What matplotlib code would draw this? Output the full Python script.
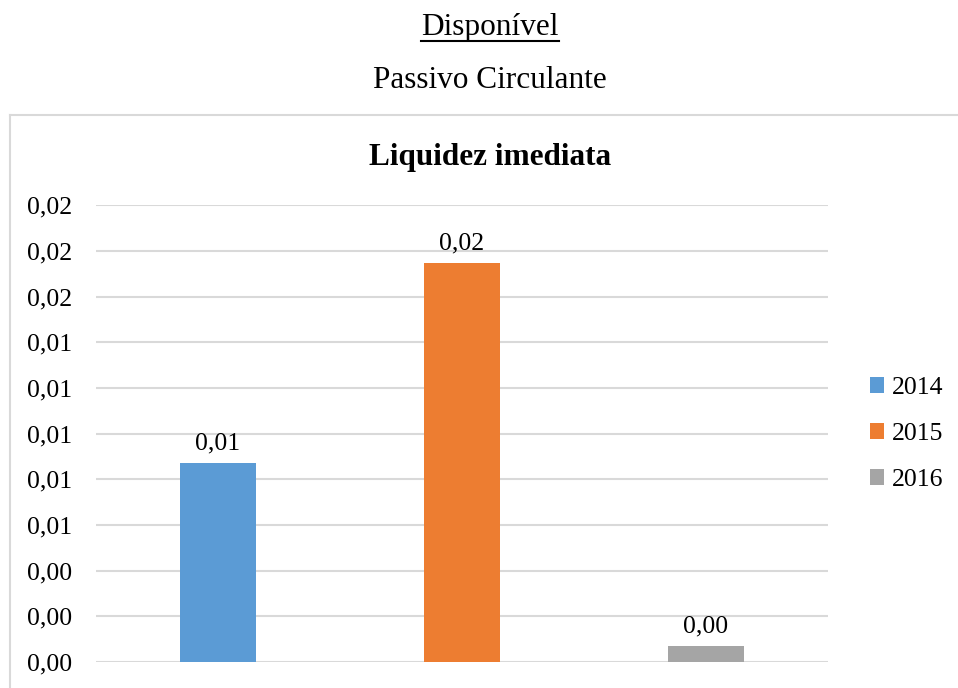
import matplotlib
matplotlib.use("Agg")
import matplotlib.pyplot as plt
from matplotlib.lines import Line2D
from matplotlib.patches import Patch

# Liquidez imediata = Disponível / Passivo Circulante
years = ["2014", "2015", "2016"]
values = [0.00872, 0.01747, 0.0007]
colors = ["#5B9BD5", "#ED7D31", "#A5A5A5"]
y_ticks = [0.000, 0.002, 0.004, 0.006, 0.008, 0.010, 0.012, 0.014, 0.016, 0.018, 0.020]

W, H = 958, 688
plt.rcParams["font.family"] = ["Liberation Serif", "DejaVu Serif"]

fig = plt.figure(figsize=(W / 100, H / 100), dpi=100)


def fx(px):
    return px / W


def fy(py):
    return 1 - py / H


ax = fig.add_axes([fx(96), fy(662), fx(828) - fx(96), fy(205.3) - fy(662)])

bar_w = 0.315
for i, (yr, v, c) in enumerate(zip(years, values, colors)):
    ax.bar(i, v, width=bar_w, color=c, label=yr, zorder=3)
    ax.annotate(f"{v:.2f}".replace(".", ","), (i, v), xytext=(0, 6),
                textcoords="offset points", ha="center", va="bottom",
                fontsize=18.5, color="#000000")

ax.set_xlim(-0.5, 2.5)
ax.set_ylim(0, 0.020)
ax.set_yticks(y_ticks)
ax.set_yticklabels([f"{t:.2f}".replace(".", ",") for t in y_ticks], fontsize=18.5)
ax.set_xticks([])
ax.tick_params(axis="y", length=0, pad=17)
ax.grid(axis="y", color="#d9d9d9", linewidth=1.5, zorder=0)
ax.set_axisbelow(True)
for s in ax.spines.values():
    s.set_visible(False)

# legend on the right
handles = [Patch(facecolor=c, edgecolor="none") for c in colors]
fig.legend(handles, years, loc="center left", bbox_to_anchor=(fx(870), fy(434)),
           frameon=False, fontsize=18.5, handlelength=0.55, handleheight=0.55,
           handletextpad=0.3, labelspacing=0.93, borderaxespad=0, borderpad=0)

# chart title
fig.text(fx(490), fy(158), "Liquidez imediata", ha="center", va="center",
         fontsize=22.5, fontweight="bold")

# fraction heading above the chart
t_num = fig.text(fx(490), fy(27), "Disponível", ha="center", va="center", fontsize=22.5)
fig.text(fx(490), fy(80), "Passivo Circulante", ha="center", va="center", fontsize=22.5)

# chart area border (left and top edges)
border = "#d9d9d9"
fig.add_artist(Line2D([fx(10), fx(10)], [fy(115), 0], color=border, lw=1.5))
fig.add_artist(Line2D([fx(10), 1], [fy(115), fy(115)], color=border, lw=1.5))

# underline the numerator
fig.canvas.draw()
bb = t_num.get_window_extent(renderer=fig.canvas.get_renderer())
fig.add_artist(Line2D([bb.x0 / W, bb.x1 / W], [fy(41), fy(41)], color="black", lw=1.5))

fig.savefig("out.png", dpi=100)
